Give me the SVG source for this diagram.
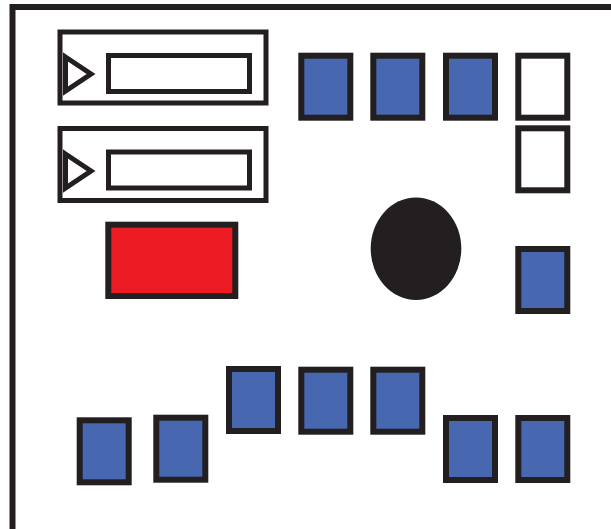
<svg xmlns="http://www.w3.org/2000/svg" width="611" height="529" viewBox="0 0 611 529">
<style>
.ln{fill:none;stroke:#231f20;stroke-width:6}
.pn{fill:#fff;stroke:#231f20;stroke-width:5}
.bl{fill:#4767b0;stroke:#231f20;stroke-width:6}
.wh{fill:#fff;stroke:#231f20;stroke-width:6}
.rd{fill:#ed1c24;stroke:#231f20;stroke-width:6}
</style>
<rect width="611" height="529" fill="#fff"/>
<g id="frame"><path class="ln" d="M12.5,529 V7 H611"/></g>
<g id="panel1">
<rect class="pn" x="60" y="32" width="206" height="71"/>
<rect class="pn" x="108.5" y="55.5" width="141" height="36"/>
<polygon class="pn" points="65.5,57 91,74 65.5,91"/>
</g>
<g id="panel2">
<rect class="pn" x="60" y="128.5" width="206" height="72"/>
<rect class="pn" x="108.5" y="152" width="141" height="36"/>
<polygon class="pn" points="65.5,154 91,171 65.5,188"/>
</g>
<g id="red"><rect class="rd" x="108.3" y="224.7" width="127" height="71.3"/></g>
<g id="circle"><ellipse cx="416" cy="248.7" rx="45.3" ry="51.3" fill="#231f20"/></g>
<g id="t1"><rect class="bl" x="301.3" y="55.7" width="49" height="62"/></g>
<g id="t2"><rect class="bl" x="373.3" y="55.7" width="49" height="62"/></g>
<g id="t3"><rect class="bl" x="446" y="55.7" width="49" height="62"/></g>
<g id="t4"><rect class="wh" x="518.3" y="55.7" width="49" height="62"/></g>
<g id="t5"><rect class="wh" x="518.3" y="128.3" width="49" height="62"/></g>
<g id="r1"><rect class="bl" x="518.3" y="249" width="49" height="62"/></g>
<g id="b1"><rect class="bl" x="79.7" y="420.3" width="49" height="62"/></g>
<g id="b2"><rect class="bl" x="156.3" y="417.7" width="49" height="62"/></g>
<g id="b3"><rect class="bl" x="229" y="369" width="49" height="62"/></g>
<g id="b4"><rect class="bl" x="301.3" y="369.7" width="49" height="62"/></g>
<g id="b5"><rect class="bl" x="373.3" y="369.7" width="49" height="62"/></g>
<g id="b6"><rect class="bl" x="446" y="418" width="49" height="62"/></g>
<g id="b7"><rect class="bl" x="518.3" y="418" width="49" height="62"/></g>
<g id="connectors"/>
</svg>
